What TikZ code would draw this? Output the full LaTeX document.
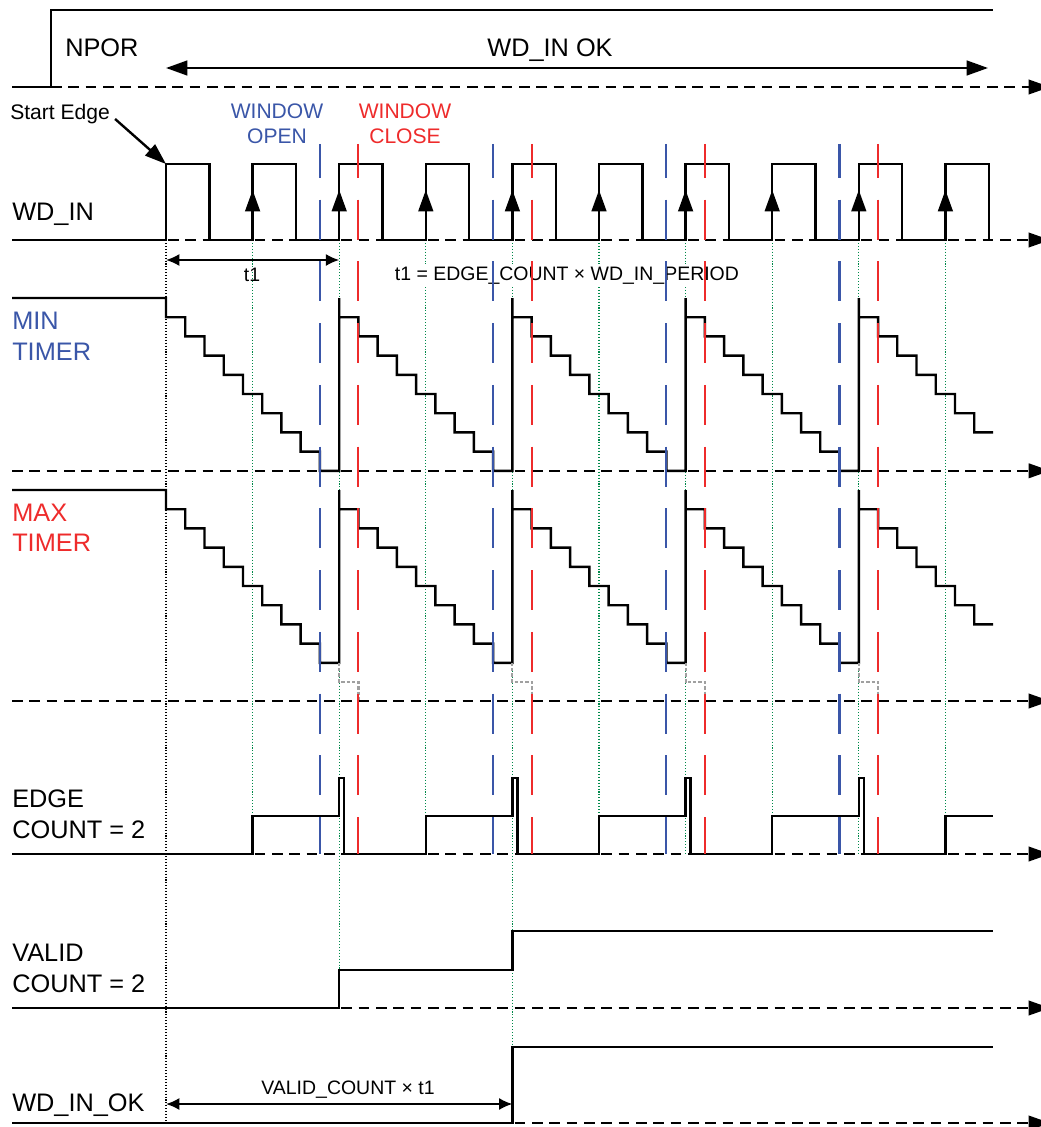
\documentclass[tikz,border=0pt]{standalone}
\usepackage{fontspec}
\setmainfont{Liberation Sans}
\usetikzlibrary{arrows.meta}
\definecolor{openblue}{HTML}{3A56A8}
\definecolor{closered}{HTML}{EE2B2B}
\definecolor{guidegreen}{HTML}{00894A}
\definecolor{ghostgray}{HTML}{A0A0A0}

\begin{document}
\begin{tikzpicture}[
  x=0.75pt, y=-0.75pt,
  every node/.style={inner sep=0pt, text=black},
  sig/.style={line width=1.8pt, line join=miter},
  zeroline/.style={line width=1.2pt, dash pattern=on 8pt off 5pt,
    -{Triangle[length=16pt, width=11pt]}},
  bigarrow/.style={line width=1.8pt, -{Triangle[length=16pt, width=11pt]}},
  dimarrow/.style={line width=1.3pt,
    {Latex[length=10pt, width=9pt]}-{Latex[length=10pt, width=9pt]}},
  openmark/.style={draw=openblue, line width=1.6pt,
    dash pattern=on 30pt off 16.3pt, dash phase=4.5pt},
  closemark/.style={openmark, draw=closered},
  guide/.style={draw=guidegreen, line width=1pt, dash pattern=on 0.8pt off 1.4pt},
  startmark/.style={draw=black, line width=0.9pt, dash pattern=on 0.8pt off 1.4pt},
  ghost/.style={draw=ghostgray, line width=1.6pt, dash pattern=on 2.5pt off 1.5pt},
  lbl/.style={font=\fontsize{19}{23}\selectfont, align=left, anchor=base west},
  midlbl/.style={font=\fontsize{15.8}{18.75}\selectfont, align=center, anchor=base},
  smalllbl/.style={font=\fontsize{14.6}{17}\selectfont, anchor=base}
]

% =============================================================================
% Pixel grid (1 unit = 1 px of the 1040 x 1127 frame), y runs downward.
% WD_IN rises every 86.6 from x = 166; the timers restart every 173.2.
% Two-line labels sit on the baseline of their last line.
% =============================================================================
\useasboundingbox (0,0) rectangle (1040,1127);

% --- zero lines, open to the right
\draw[zeroline] (51,87) -- (1050,87);
\draw[zeroline] (12,240) -- (1050,240);
\draw[zeroline] (12,470.8) -- (1050,470.8);
\draw[zeroline] (12,701) -- (1050,701);
\draw[zeroline] (12,854) -- (1050,854);
\draw[zeroline] (12,1008) -- (1050,1008);
\draw[zeroline] (12,1123) -- (1050,1123);

% --- guides from the counted edges
\foreach \k/\yend in {1/816, 2/970, 3/816, 4/1047, 5/816, 6/854, 7/816, 8/854, 9/816}
  \draw[guide] ({166+\k*86.6},240) -- ({166+\k*86.6},\yend);
\draw[startmark] (166,240) -- (166,1123);

% --- NPOR
\draw[sig] (12,87) -- (51,87) -- (51,10) -- (993,10);
\node[lbl] (npor) at (65,56.7) {NPOR};
\coordinate (okleft) at (166,68);
\coordinate (okright) at (988,68);
\draw[bigarrow, {Triangle[length=16pt, width=11pt]}-{Triangle[length=16pt, width=11pt]}]
  (okleft) -- (okright);
\node[lbl, anchor=base] (wdinok) at (550,56.7) {WD\_IN OK};

% --- WD_IN
\draw[sig] (12,240)
  \foreach \k in {0,...,9} {
    -- ({166+\k*86.6},240) -- ({166+\k*86.6},164)
    -- ({209.3+\k*86.6},164) -- ({209.3+\k*86.6},240)
  };
\foreach \k in {1,...,9}
  \draw[bigarrow] ({166+\k*86.6},240) -- ({166+\k*86.6},190);
\node[lbl] (wdin) at (12,220) {WD\_IN};
\node[midlbl, anchor=base west] (startedge) at (10,120) {Start Edge};
\coordinate (firstrise) at (166,164);
\draw[bigarrow, shorten <=5pt] (startedge.east) -- (firstrise);
\node[midlbl, text=openblue] (winopen) at (277,144) {WINDOW\\OPEN};
\node[midlbl, text=closered] (winclose) at (405,144) {WINDOW\\CLOSE};

% --- t1
\coordinate (tleft) at (166,260);
\coordinate (tright) at (339.2,260);
\draw[dimarrow] (tleft) -- (tright);
\node[smalllbl] (tone) at (252,281.7) {t1};
\node[smalllbl, anchor=base west, fill=white, inner sep=2pt] (toneeq) at (392,280.7)
  {t1 = EDGE\_COUNT × WD\_IN\_PERIOD};

% --- MIN / MAX timers
\foreach \T in {298,490} {
  \draw[sig] (12,\T) -- (166,\T)
    \foreach \c in {0,...,3} {
      \foreach \k in {0,...,8} {
        -- ({166+\c*173.2+\k*19.24},{\T+\k*19.2})
        -- ({166+\c*173.2+\k*19.24},{\T+(\k+1)*19.2})
      }
      -- ({166+(\c+1)*173.2},{\T+172.8}) -- ({166+(\c+1)*173.2},\T)
    }
    \foreach \k in {0,...,6} {
      -- ({858.8+\k*19.24},{\T+\k*19.2})
      -- ({858.8+\k*19.24},{\T+(\k+1)*19.2})
    }
    -- (993,{\T+134.4});
}
\foreach \c in {0,...,3}
  \draw[ghost] ({339.2+\c*173.2},662.8) -- ++(0,19.2) -- ++(19.24,0) -- ++(0,19.2);
\node[lbl, text=openblue] (mintimer) at (12,360) {MIN\\TIMER};
\node[lbl, text=closered] (maxtimer) at (12,551.7) {MAX\\TIMER};

% --- EDGE COUNT
\draw[sig] (12,854)
  \foreach \c in {0,...,3} {
    -- ({252.6+\c*173.2},854) -- ({252.6+\c*173.2},816)
    -- ({339.2+\c*173.2},816) -- ({339.2+\c*173.2},778)
    -- ({344.2+\c*173.2},778) -- ({344.2+\c*173.2},854)
  }
  -- (945.4,854) -- (945.4,816) -- (993,816);
\node[lbl] (edgecount) at (12,838.3) {EDGE\\COUNT = 2};

% --- VALID COUNT
\draw[sig] (12,1008) -- (339.2,1008) -- (339.2,970) -- (512.4,970)
  -- (512.4,931) -- (993,931);
\node[lbl] (validcount) at (12,992.3) {VALID\\COUNT = 2};

% --- WD_IN_OK
\draw[sig] (12,1123) -- (512.4,1123) -- (512.4,1047) -- (993,1047);
\node[lbl] (wdinokout) at (12,1111.7) {WD\_IN\_OK};
\coordinate (vleft) at (166,1104);
\coordinate (vright) at (512.4,1104);
\draw[dimarrow] (vleft) -- (vright);
\node[smalllbl] (validt) at (348,1094) {VALID\_COUNT × t1};

% --- window marks
\foreach \c in {0,...,3} {
  \draw[openmark] ({319.9+\c*173.2},144) -- ({319.9+\c*173.2},854);
  \draw[closemark] ({358.4+\c*173.2},144) -- ({358.4+\c*173.2},854);
}

\end{tikzpicture}
\end{document}
